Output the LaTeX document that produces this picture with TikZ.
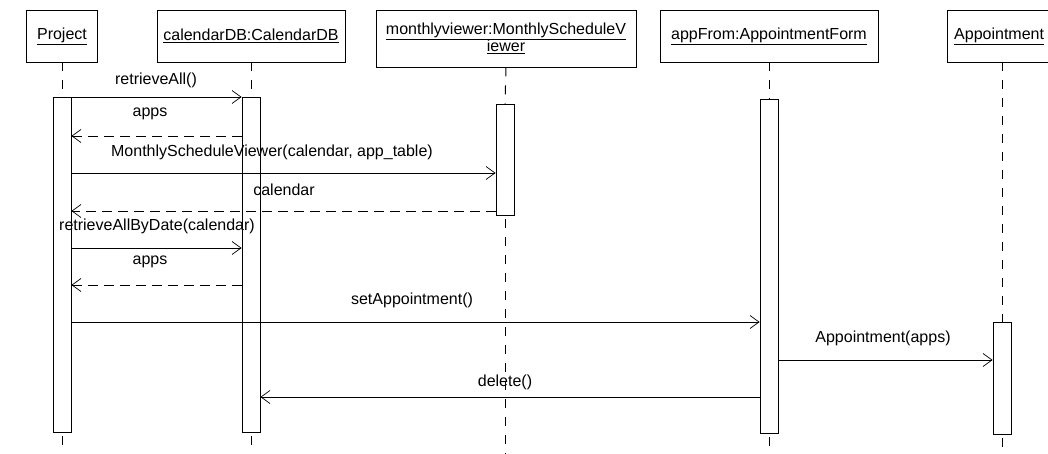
\documentclass[tikz,border=0pt]{standalone}
\usepackage{fontspec}
\setmainfont{Liberation Sans}
\usetikzlibrary{arrows.meta}

\begin{document}
\begin{tikzpicture}[x=1pt,y=-1pt,>={Straight Barb[length=9pt,width=13pt]},
  every node/.style={font=\fontsize{16}{19}\selectfont},
  obj/.style={draw,line width=0.8pt,minimum height=52,inner sep=0pt},
  act/.style={draw,line width=0.8pt,fill=white,minimum width=18,inner sep=0pt},
  lifeline/.style={line width=1pt,dash pattern=on 9pt off 9pt},
  msg/.style={->,line width=0.7pt},
  ret/.style={msg,dash pattern=on 10pt off 6pt}]

  \useasboundingbox (0,0) rectangle (1048,454);

  % objects
  \node[obj,minimum width=71] (project) at (62,36) {\underline{Project}};
  \node[obj,minimum width=188] (calDB) at (251,36) {\underline{calendarDB:CalendarDB}};
  \node[obj,minimum width=260,minimum height=57,align=center] (monthly) at (506,38.5)
    {\underline{monthlyviewer:MonthlyScheduleV}\\[-2pt]\underline{iewer}};
  \node[obj,minimum width=218] (appForm) at (769,36) {\underline{appFrom:AppointmentForm}};
  \node[obj,minimum width=110,anchor=west] (appt) at (947,36) {};
  \node[anchor=west,inner sep=0pt] (apptTxt) at (954,36) {\underline{Appointment}};

  \coordinate (bot) at (0,454);

  % lifelines
  \draw[lifeline] (project.south) -- (62,97);
  \draw[lifeline] (calDB.south) -- (251,97);
  \draw[lifeline] (monthly.south) -- (505,104);
  \draw[lifeline] (appForm.south) -- (769,99);
  \draw[lifeline] (appt.south -| 1002,0) -- (1002,322);

  % activations
  \node[act,minimum height=335] (projAct) at (62,264.5) {};
  \node[act,minimum height=335] (calAct) at (251,264.5) {};
  \node[act,minimum height=111] (monAct) at (505,159.5) {};
  \node[act,minimum height=334] (formAct) at (769,266) {};
  \node[act,minimum height=112] (apptAct) at (1002,378) {};

  \draw[lifeline] (projAct.south) ++(0,4) -- (projAct.south |- bot);
  \draw[lifeline] (calAct.south) ++(0,4) -- (calAct.south |- bot);
  \draw[lifeline] (monAct.south) ++(0,4) -- (monAct.south |- bot);
  \draw[lifeline] (formAct.south) ++(0,4) -- (formAct.south |- bot);
  \draw[lifeline] (apptAct.south) ++(0,4) -- (apptAct.south |- bot);

  % message rows
  \coordinate (r1) at (0,97);
  \coordinate (r2) at (0,136);
  \coordinate (r3) at (0,173);
  \coordinate (r4) at (0,211);
  \coordinate (r5) at (0,248);
  \coordinate (r6) at (0,285);
  \coordinate (r7) at (0,322);
  \coordinate (r8) at (0,360);
  \coordinate (r9) at (0,397);

  % messages
  \draw[msg] (projAct.east |- r1) -- (calAct.west |- r1);
  \draw[ret] (calAct.west |- r2) -- (projAct.east |- r2);
  \draw[msg] (projAct.east |- r3) -- (monAct.west |- r3);
  \draw[ret] (monAct.west |- r4) -- (projAct.east |- r4);
  \draw[msg] (projAct.east |- r5) -- (calAct.west |- r5);
  \draw[ret] (calAct.west |- r6) -- (projAct.east |- r6);
  \draw[msg] (projAct.east |- r7) -- (formAct.west |- r7);
  \draw[msg] (formAct.east |- r8) -- (apptAct.west |- r8);
  \draw[msg] (formAct.west |- r9) -- (calAct.east |- r9);

  % labels
  \node (l1) at (156,80) {retrieveAll()};
  \node (l2) at (150,114) {apps};
  \node (l3) at (272,152) {MonthlyScheduleViewer(calendar, app\_table)};
  \node (l4) at (284,190) {calendar};
  \node (l5) at (157,226) {retrieveAllByDate(calendar)};
  \node (l6) at (150,262) {apps};
  \node (l7) at (412,300) {setAppointment()};
  \node (l8) at (883,338) {Appointment(apps)};
  \node (l9) at (505,382) {delete()};
\end{tikzpicture}
\end{document}
